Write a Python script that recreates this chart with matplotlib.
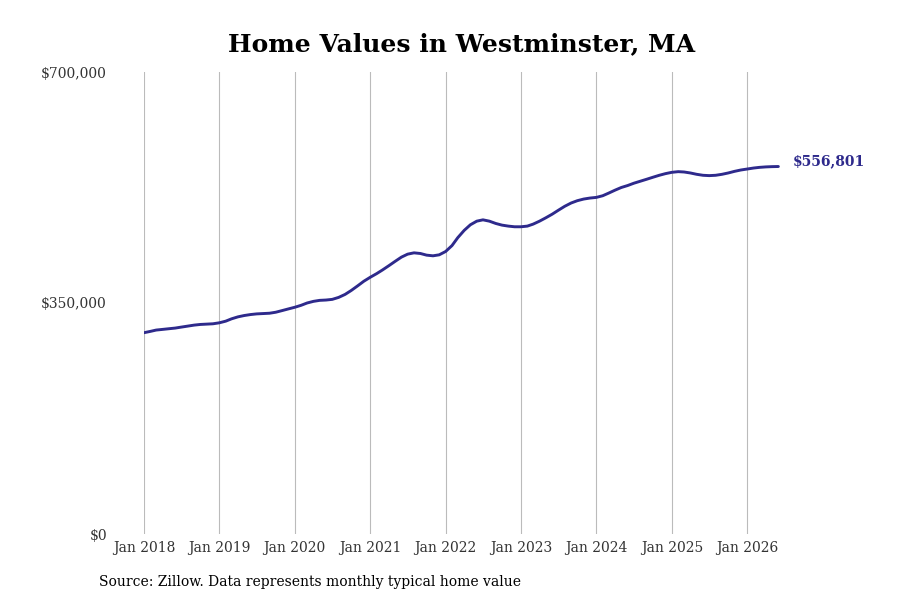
import matplotlib
matplotlib.use("Agg")
import matplotlib.pyplot as plt
import matplotlib.dates as mdates
import matplotlib.transforms as mtransforms
import pandas as pd

plt.rcParams['font.family'] = ['DejaVu Serif']

start = "2018-01-01"
values = [
    # 2018
    305000, 307000, 309000, 310000, 311000, 312000, 313500, 315000, 316500, 317500, 318000, 318500,
    # 2019
    320000, 322500, 326000, 329000, 331000, 332500, 333500, 334000, 334500, 336000, 338500, 341000,
    # 2020
    343500, 346500, 350000, 352500, 354000, 354500, 355500, 358500, 363000, 369000, 376000, 383000,
    # 2021
    389000, 394500, 400000, 406500, 413000, 419500, 424000, 426000, 425000, 422500, 421500, 423000,
    # 2022
    428000, 437000, 449000, 460000, 468500, 474000, 476000, 474000, 470500, 468000, 466500, 465500,
    # 2023
    465500, 466500, 469500, 474000, 479000, 484500, 490500, 496500, 501500, 505000, 507500, 509000,
    # 2024
    510000, 512500, 516500, 521000, 525000, 528000, 531500, 534500, 537500, 540500, 543500, 546000,
    # 2025
    548000, 549000, 548500, 547000, 545000, 543500, 543000, 543500, 545000, 547000, 549500, 551500,
    # 2026
    553000, 554500, 555500, 556200, 556600, 556801,
]
dates = pd.date_range(start, periods=len(values), freq="MS")

tick_years = list(range(2018, 2027))
tick_labels = [f"Jan {y}" for y in tick_years]
y_ticks = [0, 350000, 700000]
y_labels = ["$0", "$350,000", "$700,000"]
end_label = "$556,801"
title = "Home Values in Westminster, MA"
source = "Source: Zillow. Data represents monthly typical home value"

line_color = "#2e2a8c"
text_color = "#333333"

fig = plt.figure(figsize=(9, 6), dpi=100)
ax = fig.add_axes([144/900, 1-534/600, (790-144)/900, (534-72)/600])

ax.plot(dates, values, color=line_color, linewidth=2.1, solid_capstyle='round')

x0 = mdates.date2num(pd.Timestamp("2018-01-01"))
px_per_day = 75.4/365.25
ax.set_xlim(x0, x0 + (790-144)/px_per_day)
ax.set_ylim(0, 700000)

tick_dates = [pd.Timestamp(f"{y}-01-01") for y in tick_years]
ax.set_xticks(tick_dates)
ax.set_xticklabels(tick_labels, fontsize=10, color=text_color)
ax.tick_params(axis='x', length=0, pad=5)
ax.set_yticks([])
ax.grid(axis='x', color='#bbbbbb', linewidth=0.8)
ax.set_axisbelow(True)
for s in ax.spines.values():
    s.set_visible(False)

trans = mtransforms.blended_transform_factory(fig.transFigure, ax.transData)
for v, lab in zip(y_ticks, y_labels):
    ax.text(107/900, v, lab, transform=trans, ha='right', va='center_baseline',
            fontsize=10, color=text_color)

ax.annotate(end_label, xy=(dates[-1], values[-1]), xytext=(10, 4),
            textcoords='offset points', ha='left', va='center',
            fontsize=10, fontweight='bold', color=line_color)

fig.text(461.5/900, 1-44/600, title, ha='center', va='center', fontsize=18,
         fontweight='bold', color='black')
fig.text(99/900, 1-582/600, source, ha='left', va='center', fontsize=10,
         color='black')

fig.savefig("out.png", dpi=100)
